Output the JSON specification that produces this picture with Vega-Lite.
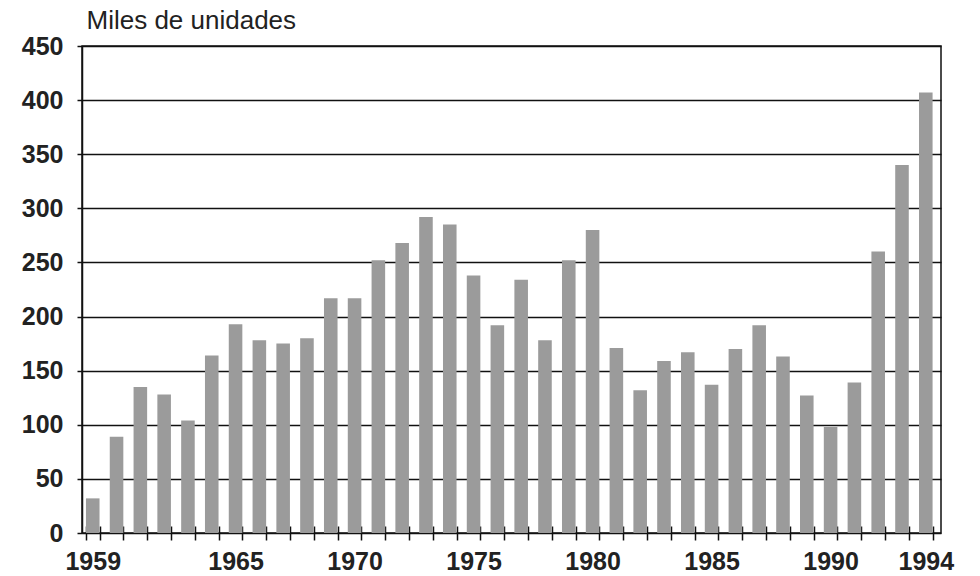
{
  "$schema": "https://vega.github.io/schema/vega-lite/v6.json",
  "autosize": {"type": "none"},
  "width": 859,
  "height": 487,
  "padding": {"left": 82, "top": 46, "right": 39, "bottom": 43},
  "background": "white",
  "config": {
    "view": {"stroke": "#111111", "strokeWidth": 1.5},
    "font": "Liberation Sans"
  },
  "data": {
    "values": [
      {"year": 1959, "units": 32},
      {"year": 1960, "units": 89},
      {"year": 1961, "units": 135},
      {"year": 1962, "units": 128},
      {"year": 1963, "units": 104},
      {"year": 1964, "units": 164},
      {"year": 1965, "units": 193},
      {"year": 1966, "units": 178},
      {"year": 1967, "units": 175},
      {"year": 1968, "units": 180},
      {"year": 1969, "units": 217},
      {"year": 1970, "units": 217},
      {"year": 1971, "units": 252},
      {"year": 1972, "units": 268},
      {"year": 1973, "units": 292},
      {"year": 1974, "units": 285},
      {"year": 1975, "units": 238},
      {"year": 1976, "units": 192},
      {"year": 1977, "units": 234},
      {"year": 1978, "units": 178},
      {"year": 1979, "units": 252},
      {"year": 1980, "units": 280},
      {"year": 1981, "units": 171},
      {"year": 1982, "units": 132},
      {"year": 1983, "units": 159},
      {"year": 1984, "units": 167},
      {"year": 1985, "units": 137},
      {"year": 1986, "units": 170},
      {"year": 1987, "units": 192},
      {"year": 1988, "units": 163},
      {"year": 1989, "units": 127},
      {"year": 1990, "units": 98},
      {"year": 1991, "units": 139},
      {"year": 1992, "units": 260},
      {"year": 1993, "units": 340},
      {"year": 1994, "units": 407}
    ]
  },
  "mark": {"type": "bar", "color": "#9b9b9b"},
  "encoding": {
    "x": {
      "field": "year",
      "type": "ordinal",
      "scale": {"paddingInner": 0.43, "paddingOuter": 0.26, "align": 0.32},
      "axis": {
        "title": null,
        "labelAngle": 0,
        "domain": false,
        "offset": -7,
        "tickBand": "extent",
        "tickSize": 14,
        "tickWidth": 1.5,
        "tickColor": "#111111",
        "labelPadding": 9,
        "labelFont": "Liberation Sans",
        "labelFontWeight": "bold",
        "labelFontSize": 25,
        "labelColor": "#222222",
        "labelExpr": "(datum.value % 5 == 0 || datum.value == 1959 || datum.value == 1994) && datum.value != 1960 ? datum.label : ''"
      }
    },
    "y": {
      "field": "units",
      "type": "quantitative",
      "scale": {"domain": [0, 450], "nice": false},
      "axis": {
        "values": [0, 50, 100, 150, 200, 250, 300, 350, 400, 450],
        "grid": true,
        "gridColor": "#111111",
        "gridWidth": 1.5,
        "gridOpacity": 1,
        "domainColor": "#111111",
        "domainWidth": 1.5,
        "tickColor": "#111111",
        "tickWidth": 1.5,
        "tickSize": 5,
        "labelPadding": 14,
        "labelFont": "Liberation Sans",
        "labelFontWeight": "bold",
        "labelFontSize": 25,
        "labelColor": "#222222",
        "title": "Miles de unidades",
        "titleAngle": 0,
        "titleAlign": "left",
        "titleBaseline": "alphabetic",
        "titleX": 4,
        "titleY": -18,
        "titleFont": "Liberation Sans",
        "titleFontWeight": "normal",
        "titleFontSize": 26,
        "titleColor": "#222222"
      }
    }
  }
}
